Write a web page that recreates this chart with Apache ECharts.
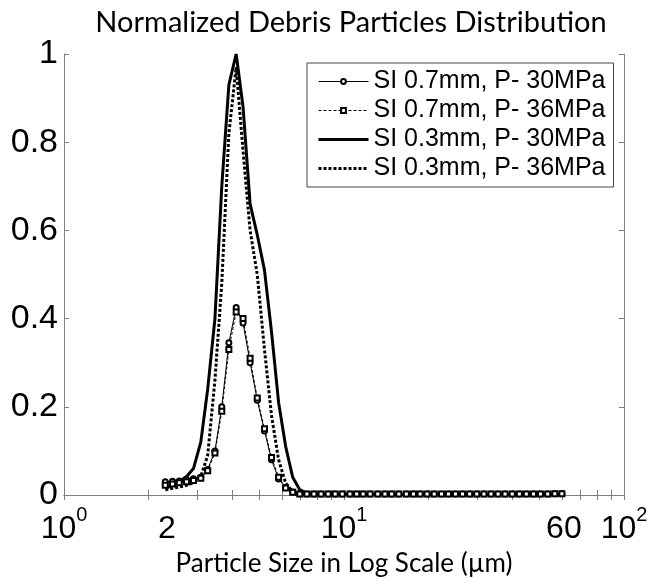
<!DOCTYPE html>
<html><head><meta charset="utf-8">
<script src="https://cdn.jsdelivr.net/npm/echarts@6/dist/echarts.min.js"></script>
<style>html,body{margin:0;padding:0;background:#fff}#c{width:652px;height:582px}</style>
</head><body><div id="c"></div>
<script>
const sizes = [2.30,2.44,2.58,2.74,2.90,3.08,3.26,3.46,3.66,3.88,4.12,4.36,4.62,4.90,5.20,5.51,5.84,6.19,6.56,6.95,7.37,7.81,8.28,8.78,9.30,9.86,10.5,11.1,11.7,12.4,13.2,14.0,14.8,15.7,16.7,17.7,18.7,19.8,21.0,22.3,23.6,25.0,26.5,28.1,29.8,31.6,33.5,35.5,37.6,39.9,42.3,44.8,47.5,50.3,53.4,56.6,60.0];
const si07p30 = [0.030,0.031,0.032,0.035,0.037,0.040,0.058,0.10,0.20,0.345,0.425,0.39,0.30,0.215,0.145,0.08,0.036,0.017,0.007,0.003,0.002,0.002,0.002,0.002,0.002,0.002,0.002,0.002,0.002,0.002,0.002,0.002,0.002,0.002,0.002,0.002,0.002,0.002,0.002,0.002,0.002,0.002,0.002,0.002,0.002,0.002,0.002,0.002,0.002,0.002,0.002,0.002,0.002,0.002,0.002,0.003,0.003];
const si07p36 = [0.022,0.025,0.028,0.030,0.033,0.038,0.055,0.095,0.19,0.33,0.415,0.40,0.31,0.22,0.15,0.085,0.040,0.016,0.006,0.002,0.002,0.002,0.002,0.002,0.002,0.002,0.002,0.002,0.002,0.002,0.002,0.002,0.002,0.002,0.002,0.002,0.002,0.002,0.002,0.002,0.002,0.002,0.002,0.002,0.002,0.002,0.002,0.002,0.002,0.002,0.002,0.002,0.002,0.002,0.002,0.003,0.003];
const si03p30 = [0.015,0.022,0.030,0.042,0.060,0.12,0.24,0.40,0.70,0.93,1.00,0.88,0.66,0.59,0.51,0.37,0.21,0.11,0.04,0.012,0.004,0.002,0.001,0.001,0.001,0.001,0.001,0.001,0.001,0.001,0.001,0.001,0.001,0.001,0.001,0.001,0.001,0.001,0.001,0.001,0.001,0.001,0.001,0.001,0.001,0.001,0.001,0.001,0.001,0.001,0.001,0.001,0.001,0.001,0.001,0.001,0.001];
const si03p36 = [0.012,0.015,0.018,0.022,0.028,0.042,0.09,0.26,0.48,0.82,0.97,0.78,0.60,0.50,0.33,0.18,0.08,0.027,0.007,0.002,0.001,0.001,0.001,0.001,0.001,0.001,0.001,0.001,0.001,0.001,0.001,0.001,0.001,0.001,0.001,0.001,0.001,0.001,0.001,0.001,0.001,0.001,0.001,0.001,0.001,0.001,0.001,0.001,0.001,0.001,0.001,0.001,0.001,0.001,0.001,0.001,0.001];
const seriesNames = ['SI 0.7mm, P- 30MPa','SI 0.7mm, P- 36MPa','SI 0.3mm, P- 30MPa','SI 0.3mm, P- 36MPa'];
const xLabelValues = [1, 2.33, 10, 61, 100];
const xLabelTexts = ['{b|10}{s|0}', '{b|2}', '{b|10}{s|1}', '{b|60}', '{b|10}{s|2}'];
const xTickValues = [1,2,3,4,5,6,7,8,9,10,20,30,40,50,60,70,80,90,100];
const yTicks = [0,0.2,0.4,0.6,0.8,1];

const pairs = v => sizes.map((x,i)=>[x,v[i]]);
const axisGray = '#7f7f7f';
const chart = echarts.init(document.getElementById('c'), null, {renderer:'canvas'});
const baseX = {
  type:'log', logBase:10, min:1, max:100,
  axisLine:{show:true, lineStyle:{color:axisGray, width:1}},
  splitLine:{show:false}, minorTick:{show:false},
  axisTick:{show:true, inside:true, length:5, lineStyle:{color:axisGray}, customValues:xTickValues}
};
const baseY = {
  type:'value', min:0, max:1, interval:0.2,
  axisLine:{show:true, lineStyle:{color:axisGray, width:1}},
  splitLine:{show:false},
  axisTick:{show:true, inside:true, length:5, lineStyle:{color:axisGray}}
};
chart.setOption({
  animation:false,
  backgroundColor:'#fff',
  title:{text:'Normalized Debris Particles Distribution', left:346, textAlign:'center', top:3,
    textStyle:{fontFamily:'Lato', fontSize:29, fontWeight:'normal', color:'#000'}},
  grid:{left:64, right:28, top:54, bottom:85, containLabel:false},
  legend:{
    orient:'vertical', left:307, top:63,
    data:[
      {name:seriesNames[0], lineStyle:{width:1, type:'solid', color:'#000'}},
      {name:seriesNames[1], lineStyle:{width:1, type:[3,2], color:'#000'}},
      {name:seriesNames[2], itemStyle:{opacity:0}, lineStyle:{width:3, type:'solid', color:'#000'}},
      {name:seriesNames[3], itemStyle:{opacity:0}, lineStyle:{width:3, type:[3,2], color:'#000'}}
    ],
    backgroundColor:'#fff', borderColor:'#444', borderWidth:1, padding:[6,8,6,10],
    itemWidth:50, itemHeight:6, itemGap:4,
    textStyle:{fontFamily:'Liberation Sans', fontSize:25, color:'#000', lineHeight:25}
  },
  xAxis:[
    Object.assign({}, baseX, {position:'bottom',
      name:'Particle Size in Log Scale (\u00b5m)', nameLocation:'middle', nameGap:56,
      nameTextStyle:{fontFamily:'Lato', fontSize:26, color:'#000'},
      axisLabel:{show:true, margin:10, customValues:xLabelValues, color:'#000',
        formatter:(v)=>{const i=xLabelValues.findIndex(t=>Math.abs(t-v)<1e-6*Math.max(1,t)); return i>=0?xLabelTexts[i]:'';},
        rich:{b:{fontFamily:'Liberation Sans', fontSize:32, lineHeight:40, verticalAlign:'bottom', color:'#000'},
              s:{fontFamily:'Liberation Sans', fontSize:20, lineHeight:40, verticalAlign:'top', color:'#000'}}}}),
    Object.assign({}, baseX, {position:'top', axisLabel:{show:false}})
  ],
  yAxis:[
    Object.assign({}, baseY, {position:'left',
      axisLabel:{show:true, margin:6, fontFamily:'Liberation Sans', fontSize:34, color:'#000',
        formatter:(v)=>String(Math.round(v*10)/10)}}),
    Object.assign({}, baseY, {position:'right', axisLabel:{show:false}})
  ],
  series:[
    {name:seriesNames[0], type:'line', data:pairs(si07p30), symbol:'emptyCircle', symbolSize:5,
     lineStyle:{color:'#000', width:1, type:'solid'}, itemStyle:{color:'#000', borderWidth:1}, z:4},
    {name:seriesNames[1], type:'line', data:pairs(si07p36), symbol:'emptyRect', symbolSize:5,
     lineStyle:{color:'#000', width:1, type:[3,2]}, itemStyle:{color:'#000', borderWidth:1}, z:4},
    {name:seriesNames[2], type:'line', data:pairs(si03p30), symbol:'none',
     lineStyle:{color:'#000', width:3, type:'solid'}, itemStyle:{color:'#000'}, z:3},
    {name:seriesNames[3], type:'line', data:pairs(si03p36), symbol:'none',
     lineStyle:{color:'#000', width:3, type:[3,2]}, itemStyle:{color:'#000'}, z:3}
  ]
});
</script></body></html>
